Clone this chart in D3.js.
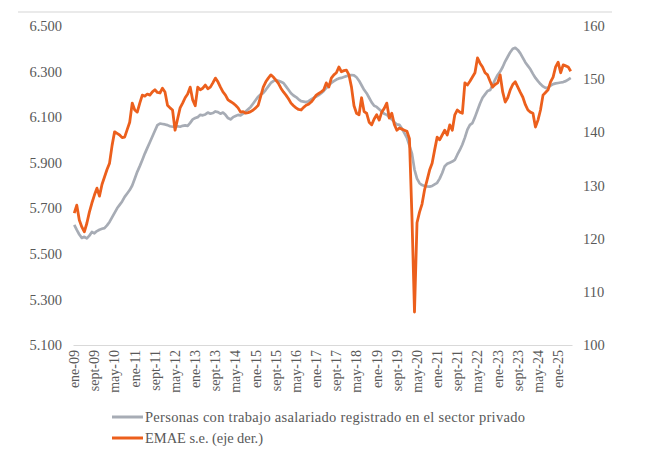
<!DOCTYPE html>
<html>
<head>
<meta charset="utf-8">
<script src="https://cdn.jsdelivr.net/npm/d3@7"></script>
<style>
  body { margin: 0; background: #fff; }
  svg { display: block; }
  .tick text { fill: #595959; }
</style>
</head>
<body>
<svg id="chart" width="650" height="450"></svg>
<script>
// meses y años del eje de categorías
var monthNames = ['ene', 'feb', 'mar', 'abr', 'may', 'jun', 'jul', 'ago', 'sept', 'oct', 'nov', 'dic'];
var years = ['09', '10', '11', '12', '13', '14', '15', '16', '17', '18', '19', '20', '21', '22', '23', '24', '25'];

// personas con trabajo asalariado registrado en el sector privado (miles), ene-09 .. jun-25
var asalariados = [
    5627, 5605, 5585, 5570, 5575, 5568, 5580, 5596, 5590, 5600, 5606, 5610,
    5613, 5625, 5640, 5660, 5680, 5700, 5715, 5730, 5750, 5765, 5780, 5800,
    5830, 5860, 5885, 5912, 5940, 5965, 5990, 6015, 6040, 6065, 6072, 6070,
    6068, 6065, 6060, 6058, 6057, 6060, 6058, 6062, 6064, 6062, 6075, 6090,
    6096, 6100, 6110, 6108, 6112, 6120, 6115, 6118, 6125, 6122, 6115, 6120,
    6110, 6096, 6090, 6100, 6105, 6110, 6108, 6115, 6125, 6135, 6145, 6160,
    6175, 6190, 6200, 6206, 6220, 6235, 6250, 6258, 6263, 6260, 6255, 6250,
    6235, 6220, 6205, 6195, 6188, 6178, 6170, 6168, 6166, 6170, 6178, 6185,
    6190, 6197, 6205, 6215, 6228, 6240, 6250, 6258, 6265, 6270, 6272, 6276,
    6280, 6283, 6285, 6283, 6275, 6260, 6240, 6220, 6205, 6185, 6165, 6150,
    6145, 6135, 6125, 6115, 6110, 6100, 6090, 6078, 6068, 6066, 6050, 6030,
    6009, 5975, 5940, 5870, 5830, 5810, 5802, 5798, 5796, 5795, 5798, 5805,
    5812, 5830, 5855, 5885, 5895, 5900, 5905, 5912, 5935, 5956, 5980, 6010,
    6045, 6066, 6074, 6100, 6130, 6160, 6185, 6200, 6215, 6219, 6240, 6265,
    6285, 6300, 6320, 6345, 6365, 6385, 6400, 6404, 6395, 6380, 6360, 6340,
    6325, 6310, 6290, 6272, 6258, 6245, 6235, 6228, 6230, 6238, 6245, 6248,
    6250, 6252, 6254, 6258, 6265, 6272
];

// EMAE desestacionalizado (eje derecho)
var emae = [
    124.8, 126.3, 123.5, 122.2, 121.3, 122.9, 125.0, 126.7, 128.2, 129.5, 128.0, 130.2,
    131.6, 133.0, 134.2, 137.5, 140.1, 139.8, 139.5, 139.0, 139.1, 140.5, 141.9, 145.5,
    144.2, 143.8, 145.5, 147.0, 146.8, 147.2, 147.0, 147.6, 148.0, 147.5, 147.4, 148.3,
    147.6, 145.1, 144.6, 144.2, 140.4, 142.5, 144.6, 145.5, 146.5, 147.2, 148.5, 146.1,
    145.0, 148.5, 148.0, 148.3, 148.9, 148.2, 148.5, 149.3, 150.2, 149.5, 148.5, 147.6,
    147.0, 146.1, 145.8, 145.5, 145.1, 144.6, 143.8, 143.9, 143.6, 143.7, 143.9, 144.2,
    144.6, 145.1, 146.8, 148.5, 149.5, 150.2, 150.8, 150.4, 149.8, 149.2, 148.3, 147.6,
    147.0, 146.3, 145.5, 145.0, 144.6, 144.3, 144.2, 144.7, 145.1, 145.3, 145.7, 146.3,
    147.0, 147.3, 147.6, 148.0, 149.3, 148.5, 150.2, 150.8, 151.2, 152.3, 151.4, 151.6,
    151.7, 150.8, 148.5, 145.0, 143.6, 143.3, 146.5, 143.9, 143.6, 141.9, 141.4, 142.5,
    143.3, 142.3, 143.8, 144.5, 145.5, 142.7, 143.6, 141.5, 140.4, 140.8, 140.6, 140.4,
    140.2, 138.8, 124.0, 106.2, 123.0, 125.0, 126.5, 129.2, 131.0, 132.9, 134.2, 136.7,
    139.1, 138.6, 139.5, 140.4, 139.5, 141.4, 140.4, 143.3, 144.2, 143.8, 143.6, 149.3,
    148.9, 149.6, 150.4, 151.2, 154.0, 153.0, 152.3, 151.2, 150.8, 149.6, 148.5, 149.0,
    149.3, 150.8, 147.6, 145.7, 146.5, 148.0, 149.0, 149.5, 148.5, 147.5, 146.6, 145.2,
    144.2, 143.8, 143.6, 141.0, 142.3, 144.2, 147.0, 147.5, 148.0, 149.5, 150.4, 152.3,
    153.2, 151.2, 152.7, 152.5, 152.3, 151.5
];

var leftTicks = [5100, 5300, 5500, 5700, 5900, 6100, 6300, 6500];
var rightTicks = [100, 110, 120, 130, 140, 150, 160];

var seriesNames = ['Personas con trabajo asalariado registrado en el sector privado', 'EMAE s.e. (eje der.)'];
var seriesColors = ['#a7acb5', '#ec5f1c'];
var legendWidths = [380, 118];

var months = [];
years.forEach(function(y) {
    monthNames.forEach(function(m) { months.push(m + '-' + y); });
});
months = months.slice(0, asalariados.length);
var labelMonths = months.filter(function(_, i) { return i % 8 === 0; });

var svg = d3.select('#chart');
var plotTop = 26, plotBottom = 345, plotLeft = 73, plotRight = 572;

var x = d3.scaleBand().domain(months).range([plotLeft, plotRight]);
var yL = d3.scaleLinear().domain([5100, 6500]).range([plotBottom, plotTop]);
var yR = d3.scaleLinear().domain([100, 160]).range([plotBottom, plotTop]);

var es = d3.formatLocale({ decimal: ',', thousands: '.', grouping: [3], currency: ['$', ''] });

// borde superior del área del gráfico
svg.append('line')
    .attr('x1', 18).attr('x2', 612).attr('y1', 12).attr('y2', 12)
    .attr('stroke', '#e3e3e3').attr('stroke-width', 1.5);

svg.append('g')
    .attr('transform', 'translate(62,0)')
    .call(d3.axisLeft(yL).tickValues(leftTicks).tickSize(0).tickPadding(0).tickFormat(es.format(',')))
    .call(function(g) { g.select('.domain').remove(); })
    .selectAll('text')
    .attr('fill', '#666')
    .style('font-family', '"Liberation Serif", serif')
    .style('font-size', '14.5px');

svg.append('g')
    .attr('transform', 'translate(583,0)')
    .call(d3.axisRight(yR).tickValues(rightTicks).tickSize(0).tickPadding(0))
    .call(function(g) { g.select('.domain').remove(); })
    .selectAll('text')
    .attr('fill', '#666')
    .style('font-family', '"Liberation Serif", serif')
    .style('font-size', '14.5px');

var xAxis = svg.append('g')
    .attr('transform', 'translate(0,' + plotBottom + ')')
    .call(d3.axisBottom(x).tickValues(labelMonths).tickSize(0).tickPadding(0));
xAxis.select('.domain').attr('stroke', '#d9d9d9').attr('stroke-width', 1.2);
xAxis.selectAll('text')
    .attr('transform', 'rotate(-90)')
    .attr('text-anchor', 'end')
    .attr('x', -5)
    .attr('y', 0)
    .attr('dy', '0.35em')
    .style('font-family', '"Liberation Serif", serif')
    .style('font-size', '14px');

var cx = function(d, i) { return x(months[i]) + x.bandwidth() / 2; };

svg.append('path')
    .datum(asalariados)
    .attr('fill', 'none')
    .attr('stroke', seriesColors[0])
    .attr('stroke-width', 2.7)
    .attr('stroke-linejoin', 'round')
    .attr('d', d3.line().x(cx).y(function(d) { return yL(d); }));

svg.append('path')
    .datum(emae)
    .attr('fill', 'none')
    .attr('stroke', seriesColors[1])
    .attr('stroke-width', 2.8)
    .attr('stroke-linejoin', 'round')
    .attr('d', d3.line().x(cx).y(function(d) { return yR(d); }));

// leyenda
var legend = svg.selectAll('g.legend')
    .data(seriesNames)
    .enter().append('g')
    .attr('class', 'legend')
    .attr('transform', function(d, i) { return 'translate(112,' + (417 + i * 21) + ')'; });
legend.append('line')
    .attr('x1', 0).attr('x2', 31)
    .attr('stroke', function(d, i) { return seriesColors[i]; })
    .attr('stroke-width', 3);
legend.append('text')
    .attr('x', 33)
    .attr('dy', '0.35em')
    .attr('fill', '#595959')
    .attr('textLength', function(d, i) { return legendWidths[i]; })
    .attr('lengthAdjust', 'spacing')
    .style('font-family', '"Liberation Serif", serif')
    .style('font-size', '14.5px')
    .text(function(d) { return d; });
</script>
</body>
</html>
